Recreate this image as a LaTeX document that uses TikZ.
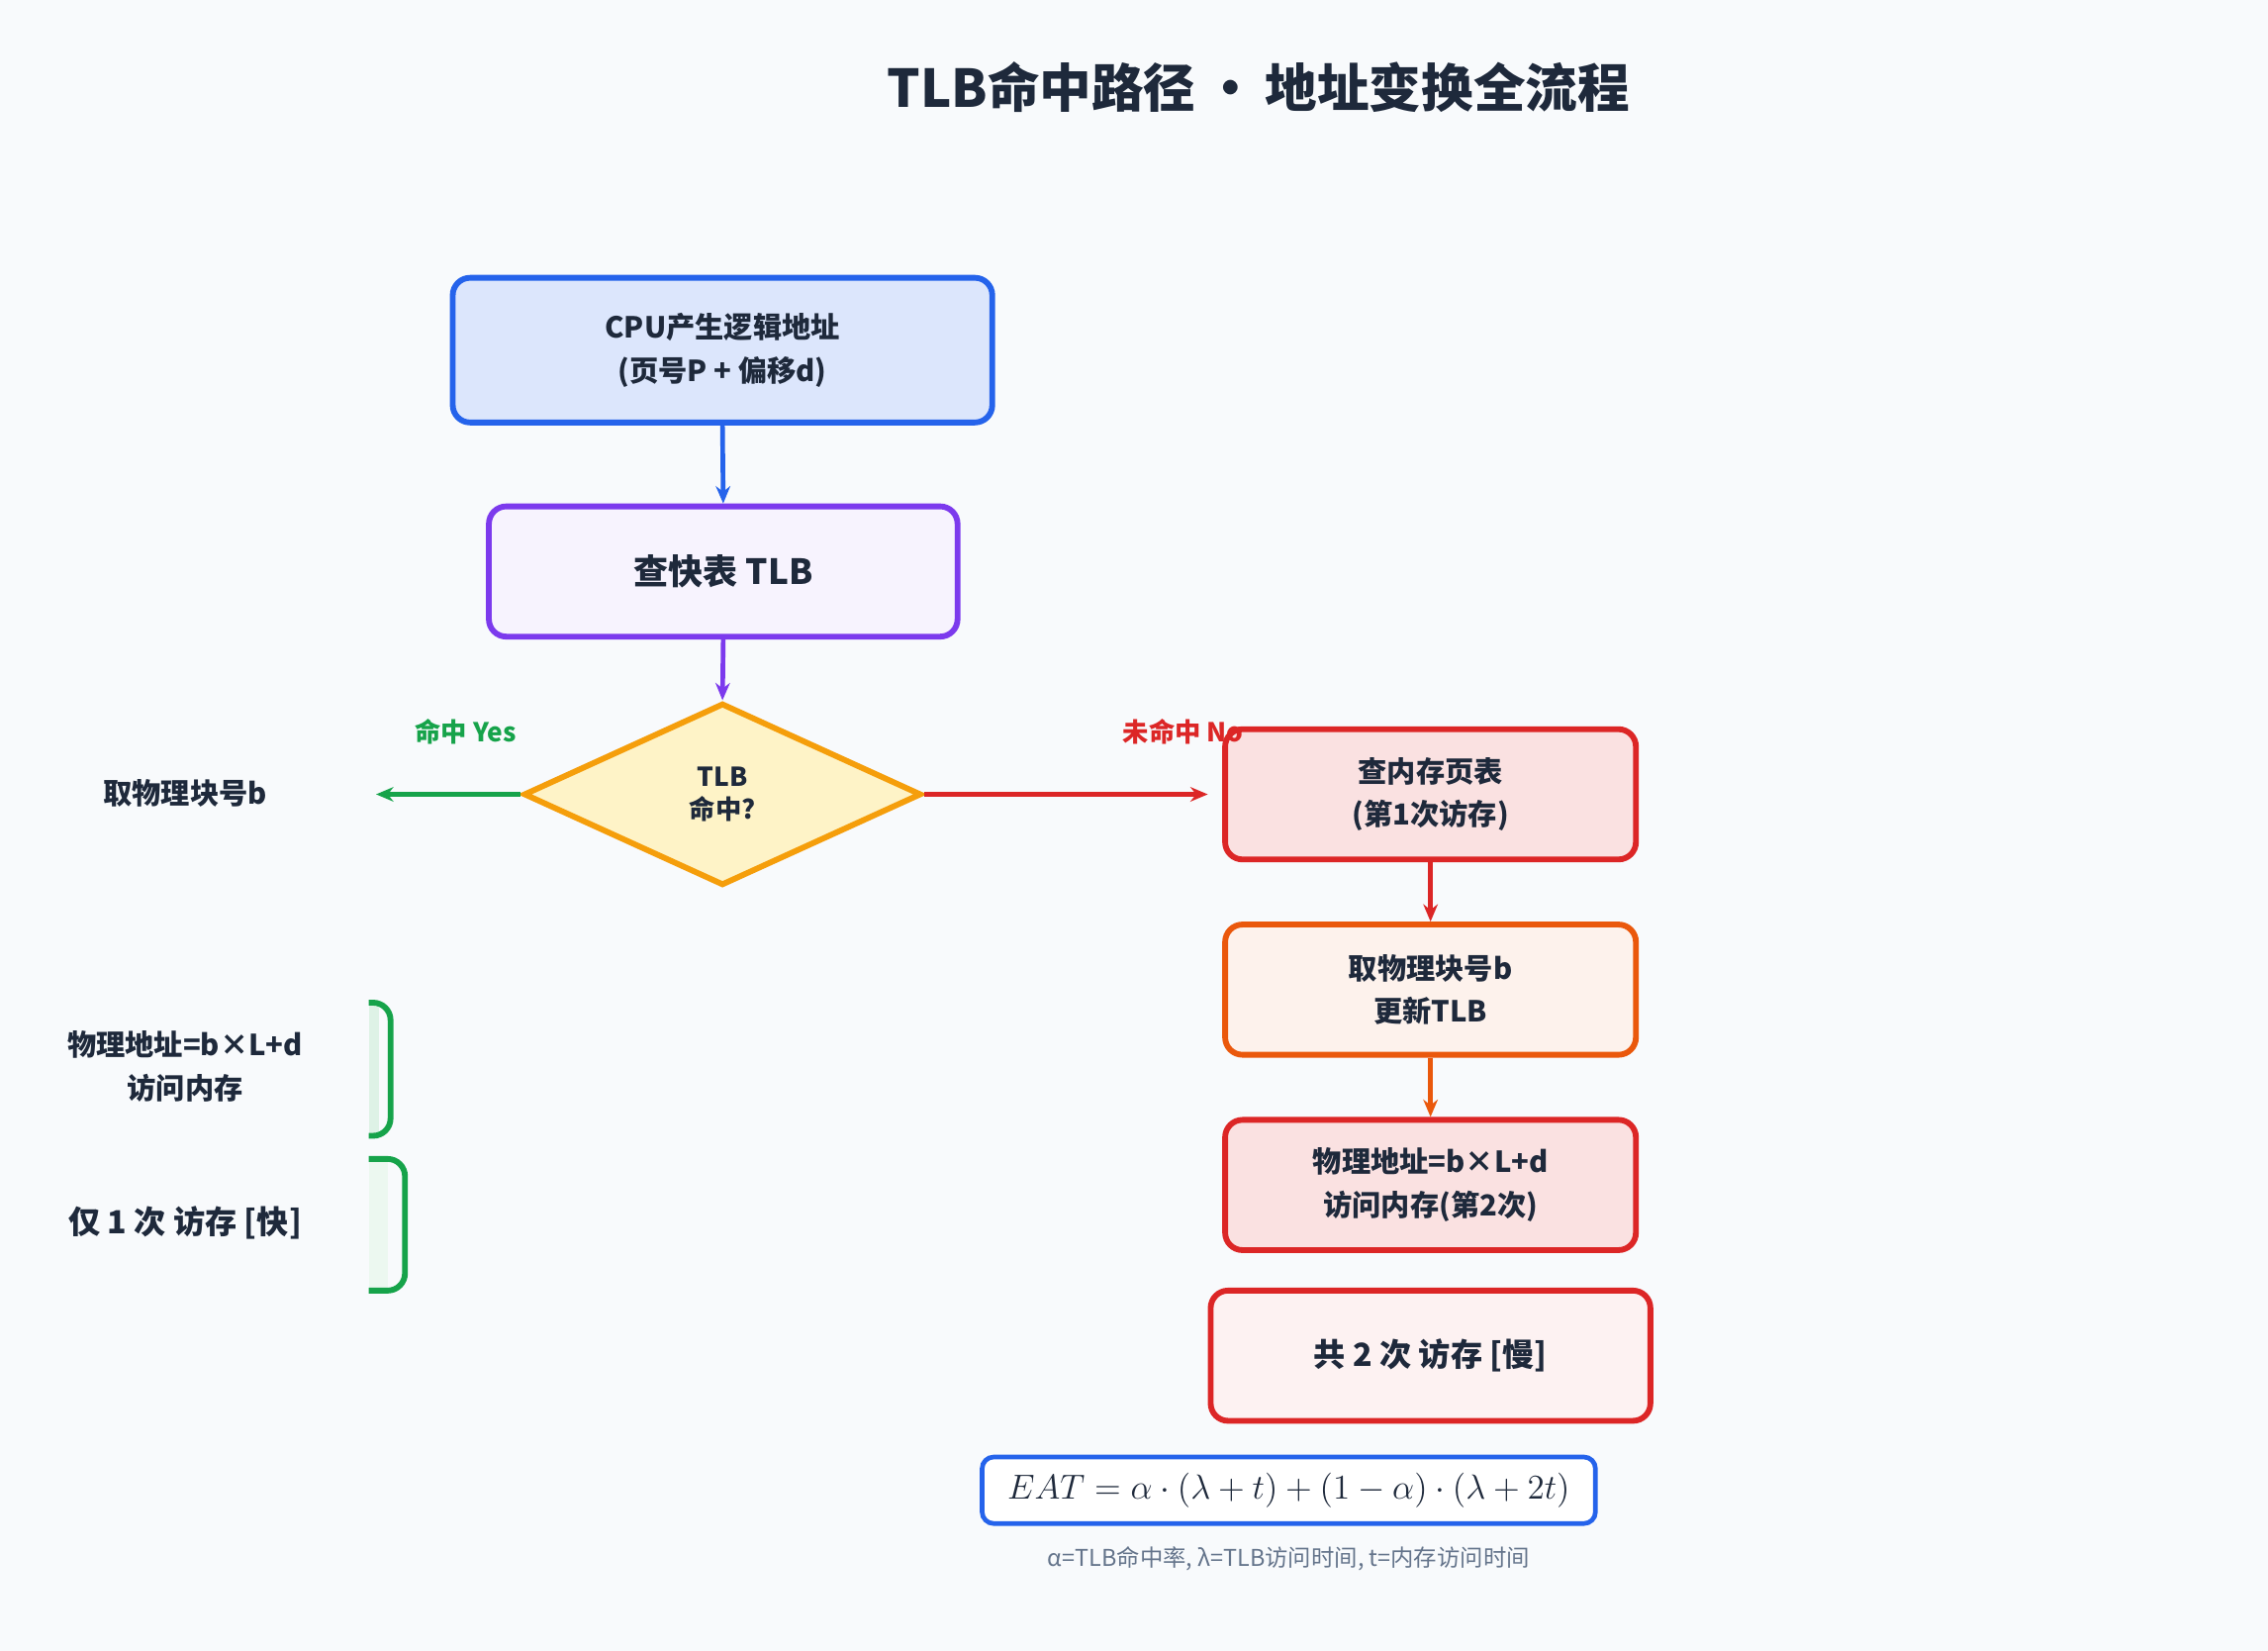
\documentclass[tikz,border=0pt]{standalone}
\usepackage{fontspec}
\setmainfont{Noto Sans CJK SC}
\usetikzlibrary{shapes.geometric,arrows.meta}
\definecolor{bg}{HTML}{F8FAFC}
\definecolor{ink}{HTML}{1E293B}
\definecolor{cblue}{HTML}{2563EB}
\definecolor{cpurple}{HTML}{7C3AED}
\definecolor{corange}{HTML}{F59E0B}
\definecolor{cyellow}{HTML}{FEF3C7}
\definecolor{cdorange}{HTML}{EA580C}
\definecolor{cred}{HTML}{DC2626}
\definecolor{cgreen}{HTML}{16A34A}
\definecolor{cgrey}{HTML}{64748B}
\tikzset{every picture/.style={line width=0.5pt}}
\tikzset{
  box/.style={draw, line width=2pt, rounded corners=6pt, align=center, font=\bfseries\fontsize{10}{15}\selectfont, text=ink, inner sep=0pt},
  flow/.style={-{Stealth[length=6pt,width=5pt]}, line width=1.6pt},
  lab/.style={font=\bfseries\fontsize{9}{11}\selectfont, text=ink, align=center}
}
\begin{document}
\begin{tikzpicture}[x=0.5pt,y=-0.5pt]
\useasboundingbox (0,0) rectangle (1568,1141);
\fill[bg] (0,0) rectangle (1568,1141);

% Title
\node (title) at (870,60) [font=\bfseries\fontsize{18}{22}\selectfont, text=ink] {TLB命中路径\,•\,地址变换全流程};

% main column
\node (cpu) at (499.5,242) [box, draw=cblue, fill=cblue!16, minimum width=186.5pt, minimum height=50pt] {CPU产生逻辑地址\\(页号P + 偏移d)};
\node (tlb) at (500,395) [box, draw=cpurple, fill=cpurple!6, minimum width=162pt, minimum height=45pt, font=\bfseries\fontsize{12}{15}\selectfont] {查快表 TLB};
\node (hit) at (499.5,549) [diamond, draw=corange, fill=cyellow, line width=2pt, minimum width=137.5pt, minimum height=63pt, inner sep=0pt, lab] {TLB\\命中?};

% miss path
\node (pt) at (989,549) [box, draw=cred, fill=cred!14, minimum width=142pt, minimum height=45pt] {查内存页表\\(第1次访存)};
\node (upd) at (989,684) [box, draw=cdorange, fill=cdorange!8, minimum width=142pt, minimum height=45pt] {取物理块号b\\更新TLB};
\node (mem2) at (989,819) [box, draw=cred, fill=cred!14, minimum width=142pt, minimum height=45pt] {物理地址=b×L+d\\访问内存(第2次)};
\node (slow) at (989,937) [box, draw=cred, fill=cred!6, minimum width=152pt, minimum height=45pt, font=\bfseries\fontsize{11}{14}\selectfont] {共 2 次 访存 [慢]};

% hit path
\node (blk) at (128,548) [lab, font=\bfseries\fontsize{10}{12}\selectfont] {取物理块号b};
\coordinate (blkin) at (260,549);
\fill[cgreen!14] (255,693) rectangle (262,785);
\draw[cgreen, line width=2pt, rounded corners=6pt] (255,693) -- (270,693) -- (270,785) -- (255,785);
\node (mem1) at (128,737) [lab, font=\bfseries\fontsize{10}{15}\selectfont] {物理地址=b×L+d\\访问内存};
\fill[cgreen!8] (255,801) rectangle (268,892);
\draw[cgreen, line width=2pt, rounded corners=6pt] (255,801) -- (280,801) -- (280,892) -- (255,892);
\node (fast) at (128,845) [lab, font=\bfseries\fontsize{11}{14}\selectfont] {仅 1 次 访存 [快]};

% connectors
\draw[flow, cblue] (cpu.south) -- (tlb.north);
\draw[flow, cpurple] (tlb.south) -- (hit.north);
\draw[flow, cgreen] (hit.west) -- (blkin);
\draw[flow, cred] (hit.east) -- ([xshift=-5pt]pt.west);
\draw[flow, cred] (pt.south) -- (upd.north);
\draw[flow, cdorange] (upd.south) -- (mem2.north);
\node (yes) at (322,506) [font=\bfseries\fontsize{9}{11}\selectfont, text=cgreen] {命中 Yes};
\node (no) at (818,506) [font=\bfseries\fontsize{9}{11}\selectfont, text=cred] {未命中 No};

% formula
\node (eat) at (891,1030) [draw=cblue, fill=white, line width=1.6pt, rounded corners=4pt, minimum width=212pt, minimum height=23pt, text=ink, font=\fontsize{12}{14}\selectfont] {$EAT=\alpha\cdot(\lambda+t)+(1-\alpha)\cdot(\lambda+2t)$};
\node (note) at (891,1077) [text=cgrey, font=\fontsize{8}{10}\selectfont] {α=TLB命中率, λ=TLB访问时间, t=内存访问时间};
\end{tikzpicture}
\end{document}
